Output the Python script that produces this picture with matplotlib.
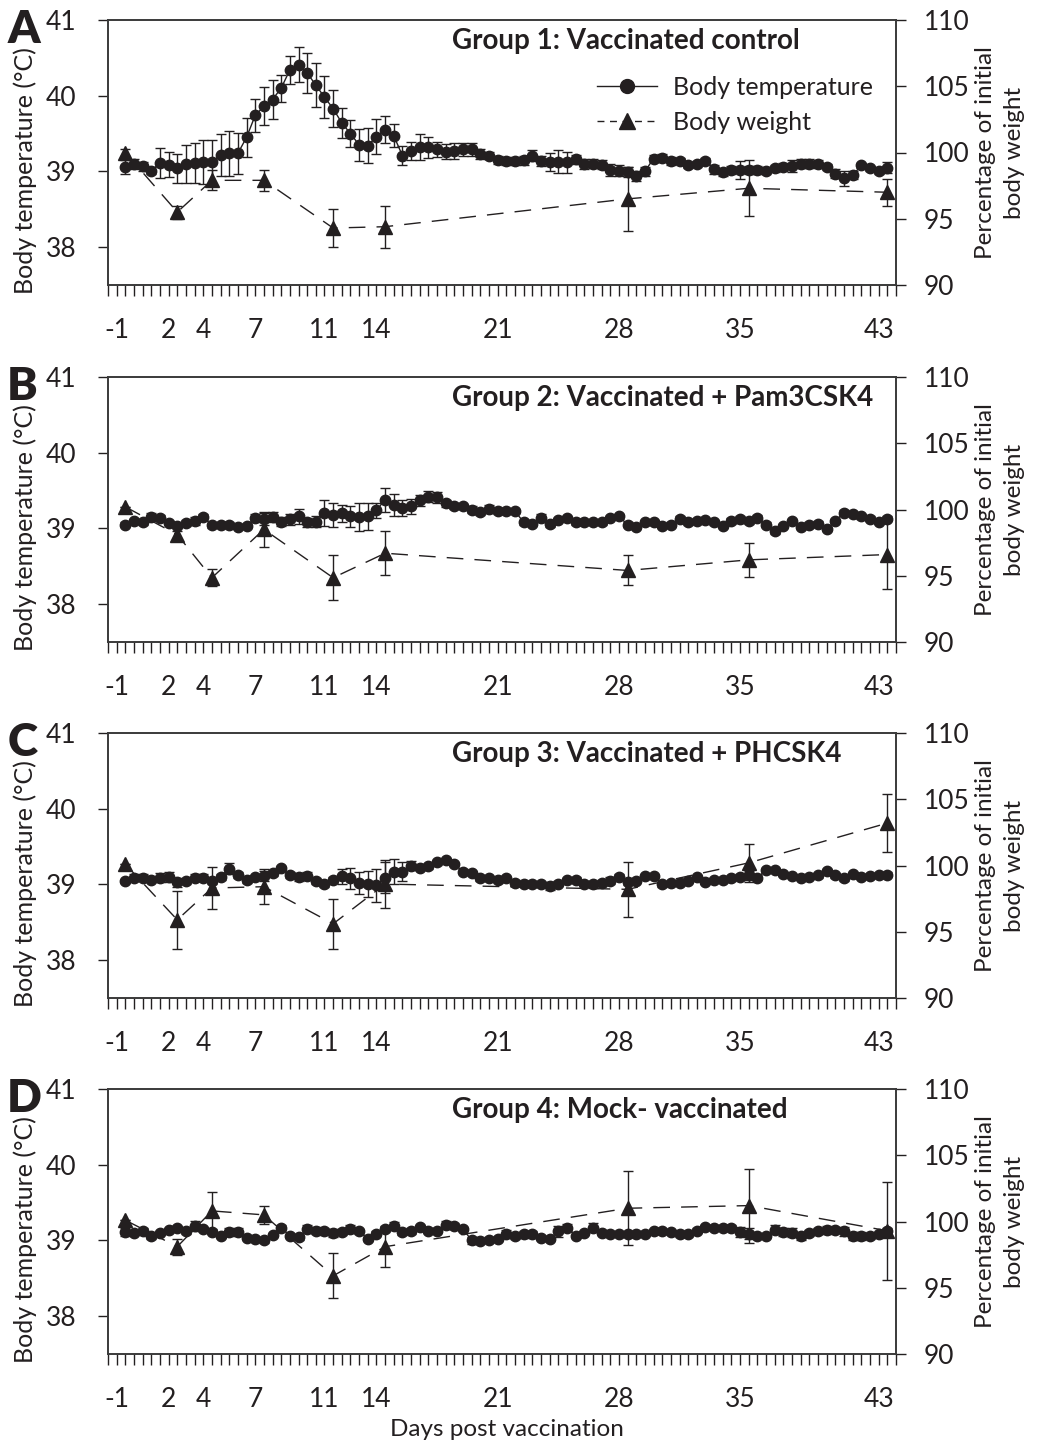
import numpy as np
import matplotlib
matplotlib.use("Agg")
import matplotlib.pyplot as plt
from matplotlib.lines import Line2D

plt.rcParams['font.family'] = ['Lato', 'DejaVu Sans']

INK = '#231f20'

# temperature measured twice a day, from day -0.5 to day 43.5
temp_days = np.arange(-0.5, 43.51, 0.5)
weight_days = [-0.5, 2.5, 4.5, 7.5, 11.5, 14.5, 28.5, 35.5, 43.5]

xtick_days = [-1, 2, 4, 7, 11, 14, 21, 28, 35, 43]
xtick_labels = ['-1', '2', '4', '7', '11', '14', '21', '28', '35', '43']

panel_letters = ['A', 'B', 'C', 'D']
titles = ['Group 1: Vaccinated control',
          'Group 2: Vaccinated + Pam3CSK4',
          'Group 3: Vaccinated + PHCSK4',
          'Group 4: Mock- vaccinated']

temp_g1 = [39.06, 39.10, 39.07, 39.01, 39.11, 39.09, 39.04, 39.10, 39.11, 39.13,
           39.12, 39.22, 39.24, 39.24, 39.45, 39.74, 39.86, 39.95, 40.10, 40.34,
           40.41, 40.30, 40.14, 39.98, 39.83, 39.64, 39.50, 39.35, 39.34, 39.46,
           39.55, 39.47, 39.21, 39.27, 39.32, 39.32, 39.29, 39.26, 39.27, 39.29,
           39.29, 39.23, 39.21, 39.15, 39.14, 39.14, 39.15, 39.21, 39.14, 39.13,
           39.13, 39.12, 39.16, 39.10, 39.10, 39.09, 39.02, 39.01, 38.99, 38.94,
           39.00, 39.17, 39.18, 39.14, 39.14, 39.08, 39.10, 39.14, 39.03, 38.99,
           39.02, 39.02, 39.02, 39.02, 39.01, 39.04, 39.06, 39.07, 39.10, 39.10,
           39.10, 39.06, 38.97, 38.91, 38.95, 39.08, 39.04, 39.01, 39.05]
temp_err_g1 = [0.09, 0.07, 0.06, 0.05, 0.20, 0.17, 0.19, 0.25, 0.26, 0.29,
               0.30, 0.28, 0.30, 0.27, 0.26, 0.22, 0.25, 0.26, 0.18, 0.18,
               0.23, 0.27, 0.29, 0.28, 0.24, 0.20, 0.18, 0.21, 0.23, 0.23,
               0.18, 0.15, 0.13, 0.12, 0.17, 0.14, 0.10, 0.10, 0.10, 0.09,
               0.08, 0.06, 0.05, 0.05, 0.05, 0.05, 0.06, 0.07, 0.07, 0.12,
               0.15, 0.14, 0.06, 0.07, 0.06, 0.06, 0.08, 0.07, 0.07, 0.06,
               0.06, 0.05, 0.05, 0.05, 0.04, 0.04, 0.04, 0.04, 0.06, 0.05,
               0.05, 0.12, 0.05, 0.05, 0.05, 0.05, 0.05, 0.08, 0.06, 0.06,
               0.05, 0.04, 0.06, 0.10, 0.05, 0.03, 0.03, 0.04, 0.07]

temp_g2 = [39.05, 39.10, 39.08, 39.15, 39.14, 39.07, 39.03, 39.07, 39.10, 39.15,
           39.04, 39.05, 39.05, 39.02, 39.03, 39.14, 39.13, 39.15, 39.09, 39.12,
           39.16, 39.08, 39.09, 39.20, 39.18, 39.20, 39.16, 39.15, 39.16, 39.24,
           39.38, 39.31, 39.27, 39.29, 39.37, 39.42, 39.41, 39.33, 39.30, 39.29,
           39.25, 39.22, 39.26, 39.23, 39.23, 39.23, 39.08, 39.06, 39.14, 39.06,
           39.11, 39.14, 39.08, 39.08, 39.08, 39.08, 39.14, 39.16, 39.05, 39.02,
           39.08, 39.08, 39.03, 39.05, 39.13, 39.08, 39.10, 39.11, 39.08, 39.03,
           39.10, 39.12, 39.10, 39.14, 39.05, 38.97, 39.03, 39.10, 39.02, 39.05,
           39.06, 38.99, 39.10, 39.21, 39.19, 39.16, 39.13, 39.09, 39.13]
temp_err_g2 = [0.03, 0.03, 0.03, 0.05, 0.04, 0.03, 0.03, 0.04, 0.05, 0.04,
               0.03, 0.03, 0.03, 0.03, 0.03, 0.05, 0.08, 0.07, 0.06, 0.07,
               0.10, 0.06, 0.07, 0.17, 0.16, 0.11, 0.14, 0.19, 0.18, 0.10,
               0.16, 0.14, 0.11, 0.10, 0.07, 0.07, 0.07, 0.05, 0.04, 0.03,
               0.04, 0.04, 0.05, 0.04, 0.03, 0.03, 0.03, 0.03, 0.05, 0.04,
               0.03, 0.03, 0.04, 0.03, 0.03, 0.03, 0.03, 0.03, 0.03, 0.03,
               0.03, 0.03, 0.03, 0.03, 0.03, 0.03, 0.03, 0.03, 0.03, 0.03,
               0.04, 0.05, 0.04, 0.04, 0.03, 0.04, 0.03, 0.03, 0.03, 0.03,
               0.04, 0.03, 0.03, 0.03, 0.03, 0.03, 0.03, 0.03, 0.03]

temp_g3 = [39.04, 39.09, 39.09, 39.06, 39.09, 39.10, 39.03, 39.04, 39.09, 39.09,
           39.04, 39.10, 39.21, 39.12, 39.06, 39.10, 39.11, 39.15, 39.22, 39.12,
           39.10, 39.11, 39.04, 39.00, 39.06, 39.11, 39.08, 39.02, 39.01, 38.99,
           39.09, 39.17, 39.17, 39.25, 39.22, 39.24, 39.29, 39.32, 39.27, 39.17,
           39.15, 39.09, 39.08, 39.06, 39.08, 39.02, 39.01, 39.01, 39.00, 38.98,
           39.01, 39.06, 39.06, 39.01, 39.00, 39.02, 39.05, 39.10, 39.03, 39.05,
           39.11, 39.11, 39.00, 39.02, 39.02, 39.05, 39.10, 39.03, 39.06, 39.06,
           39.08, 39.10, 39.12, 39.09, 39.19, 39.19, 39.14, 39.11, 39.09, 39.10,
           39.12, 39.18, 39.12, 39.08, 39.14, 39.10, 39.11, 39.12, 39.13]
temp_err_g3 = [0.02, 0.05, 0.05, 0.03, 0.06, 0.07, 0.06, 0.03, 0.05, 0.05,
               0.04, 0.04, 0.07, 0.04, 0.04, 0.03, 0.07, 0.04, 0.03, 0.04,
               0.05, 0.05, 0.04, 0.03, 0.04, 0.10, 0.14, 0.14, 0.17, 0.22,
               0.20, 0.17, 0.13, 0.06, 0.03, 0.03, 0.03, 0.03, 0.03, 0.03,
               0.03, 0.04, 0.03, 0.04, 0.03, 0.04, 0.03, 0.04, 0.03, 0.05,
               0.03, 0.03, 0.04, 0.03, 0.05, 0.04, 0.05, 0.04, 0.04, 0.03,
               0.03, 0.03, 0.03, 0.03, 0.03, 0.03, 0.03, 0.03, 0.03, 0.03,
               0.03, 0.04, 0.06, 0.03, 0.03, 0.03, 0.03, 0.03, 0.03, 0.03,
               0.03, 0.03, 0.03, 0.03, 0.03, 0.03, 0.03, 0.03, 0.03]

temp_g4 = [39.11, 39.10, 39.12, 39.06, 39.10, 39.14, 39.16, 39.12, 39.19, 39.15,
           39.11, 39.06, 39.11, 39.11, 39.03, 39.02, 39.00, 39.07, 39.17, 39.06,
           39.04, 39.15, 39.13, 39.12, 39.10, 39.11, 39.15, 39.12, 39.02, 39.09,
           39.15, 39.19, 39.11, 39.13, 39.18, 39.13, 39.13, 39.20, 39.19, 39.15,
           39.00, 38.99, 39.01, 39.02, 39.09, 39.06, 39.08, 39.09, 39.03, 39.02,
           39.12, 39.17, 39.06, 39.10, 39.17, 39.10, 39.09, 39.08, 39.08, 39.08,
           39.09, 39.12, 39.12, 39.11, 39.08, 39.08, 39.13, 39.18, 39.17, 39.17,
           39.17, 39.11, 39.09, 39.06, 39.06, 39.14, 39.11, 39.10, 39.06, 39.10,
           39.13, 39.14, 39.14, 39.12, 39.06, 39.06, 39.06, 39.08, 39.12]
temp_err_g4 = [0.05, 0.03, 0.04, 0.04, 0.03, 0.03, 0.03, 0.04, 0.06, 0.03,
               0.03, 0.03, 0.05, 0.05, 0.03, 0.03, 0.03, 0.03, 0.03, 0.03,
               0.03, 0.05, 0.05, 0.05, 0.05, 0.04, 0.05, 0.03, 0.03, 0.03,
               0.04, 0.05, 0.04, 0.04, 0.03, 0.03, 0.03, 0.05, 0.04, 0.03,
               0.05, 0.03, 0.03, 0.03, 0.05, 0.04, 0.05, 0.03, 0.03, 0.03,
               0.07, 0.05, 0.03, 0.03, 0.06, 0.03, 0.03, 0.03, 0.03, 0.03,
               0.03, 0.03, 0.03, 0.03, 0.03, 0.03, 0.03, 0.03, 0.03, 0.03,
               0.03, 0.07, 0.07, 0.03, 0.03, 0.06, 0.05, 0.06, 0.05, 0.04,
               0.04, 0.05, 0.04, 0.06, 0.05, 0.05, 0.04, 0.04, 0.04]

weight_g1 = [100.0, 95.5, 97.9, 97.9, 94.3, 94.4, 96.5, 97.3, 97.0]
weight_err_g1 = [0.3, 0.5, 0.75, 0.8, 1.4, 1.6, 2.4, 2.1, 1.0]
weight_g2 = [100.2, 98.1, 94.85, 98.5, 94.85, 96.7, 95.4, 96.2, 96.6]
weight_err_g2 = [0.0, 0.3, 0.65, 1.3, 1.7, 1.65, 1.13, 1.3, 2.6]
weight_g3 = [100.1, 95.9, 98.3, 98.4, 95.6, 98.6, 98.2, 100.2, 103.2]
weight_err_g3 = [0.0, 2.2, 1.6, 1.3, 1.9, 1.8, 2.1, 1.45, 2.2]
weight_g4 = [100.1, 98.1, 100.8, 100.5, 95.9, 98.1, 101.0, 101.2, 99.3]
weight_err_g4 = [0.0, 0.6, 1.4, 0.7, 1.7, 1.5, 2.8, 2.8, 3.7]

temps = [temp_g1, temp_g2, temp_g3, temp_g4]
temp_errs = [temp_err_g1, temp_err_g2, temp_err_g3, temp_err_g4]
weights = [weight_g1, weight_g2, weight_g3, weight_g4]
weight_errs = [weight_err_g1, weight_err_g2, weight_err_g3, weight_err_g4]

W, H = 1042, 1446
fig = plt.figure(figsize=(W / 100, H / 100), dpi=100)

left_px, right_px = 108, 896
panel_h = 265
tops = [20, 377, 733, 1089]
dash = (0, (12, 8))
FS = 19

for i in range(4):
    top = tops[i]
    ax = fig.add_axes([left_px / W, 1 - (top + panel_h) / H,
                       (right_px - left_px) / W, panel_h / H])
    ax2 = ax.twinx()

    # body temperature
    ax.errorbar(temp_days, temps[i], yerr=temp_errs[i], fmt='none',
                ecolor=INK, elinewidth=1.0, capsize=3.5, capthick=1.0)
    ax.plot(temp_days, temps[i], '-o', color=INK, lw=1.0, ms=7.5)

    # body weight
    ax2.errorbar(weight_days, weights[i], yerr=weight_errs[i], fmt='none',
                 ecolor=INK, elinewidth=1.0, capsize=3.5, capthick=1.0)
    ax2.plot(weight_days, weights[i], marker='^', ls=dash, color=INK,
             lw=1.0, ms=10)

    ax.set_xlim(-1.5, 44)
    ax.set_ylim(37.5, 41)
    ax2.set_ylim(90, 110)
    ax.set_yticks([38, 39, 40, 41])
    ax2.set_yticks([90, 95, 100, 105, 110])
    ax.set_xticks(xtick_days)
    ax.set_xticklabels(xtick_labels)
    ax.set_xticks(np.arange(-1.5, 44.01, 0.5), minor=True)

    ax.tick_params(axis='x', which='both', direction='out', length=8,
                   width=1.0, color=INK, pad=16, labelsize=FS, labelcolor=INK)
    ax.tick_params(axis='y', direction='out', length=7, width=1.0,
                   color=INK, pad=16, labelsize=FS, labelcolor=INK)
    ax2.tick_params(axis='y', direction='out', length=7, width=1.0,
                    color=INK, pad=13, labelsize=FS, labelcolor=INK)

    for a in (ax, ax2):
        for s in a.spines.values():
            s.set_color('#3a3a3a')
            s.set_linewidth(1.2)

    ax.set_ylabel('Body temperature (°C)', fontsize=18, color=INK)
    ax.yaxis.set_label_coords(-0.09, 0.43)
    ax2.set_ylabel('Percentage of initial\nbody weight', fontsize=17.5,
                   color=INK, linespacing=1.5)
    ax2.yaxis.set_label_coords(1.1, 0.5)

    ax.text(-0.128, 0.965, panel_letters[i], transform=ax.transAxes,
            fontsize=33, fontweight='heavy', color=INK, ha='left', va='center')
    ax.text(0.4365, 0.922, titles[i], transform=ax.transAxes,
            fontsize=20, fontweight='bold', color=INK, ha='left', va='center')

    if i == 0:
        handles = [Line2D([], [], color=INK, marker='o', ms=10, lw=1.0),
                   Line2D([], [], color=INK, marker='^', ms=11, lw=1.0,
                          ls=(0, (5, 4)))]
        leg = ax.legend(handles, ['Body temperature', 'Body weight'],
                        loc='upper left', bbox_to_anchor=(0.62, 0.79),
                        frameon=False, fontsize=18, handlelength=2.4,
                        handletextpad=0.65, labelspacing=0.5,
                        borderpad=0, borderaxespad=0)
        for t in leg.get_texts():
            t.set_color(INK)

    if i == 3:
        ax.set_xlabel('Days post vaccination', fontsize=17.5, color=INK)
        ax.xaxis.set_label_coords(0.506, -0.245)

fig.savefig('out.png', dpi=100)
